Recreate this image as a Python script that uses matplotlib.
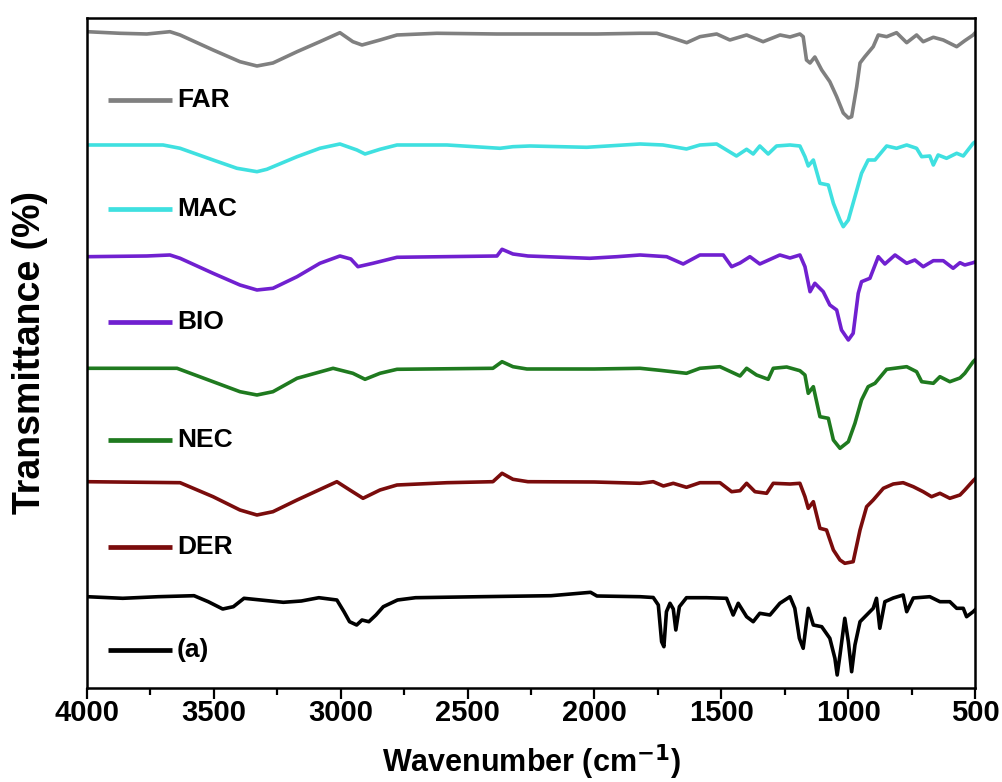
import matplotlib
matplotlib.use("Agg")
import matplotlib.pyplot as plt
from matplotlib.ticker import MultipleLocator

plt.rcParams['font.family'] = ['Liberation Sans', 'DejaVu Sans']

# ---- data: wavenumber (cm^-1) and transmittance (a.u., stacked) ----
far_w = [4000, 3870, 3764, 3673, 3633, 3503, 3397, 3330, 3267, 3172, 3082, 3003, 2952, 2916, 2845, 2778,
         2621, 2384, 2254, 1990, 1820, 1754, 1689, 1636, 1584, 1518, 1466, 1400, 1335, 1268, 1229, 1190,
         1177, 1164, 1150, 1131, 1104, 1072, 1045, 1019, 999, 986, 966, 953, 934, 901, 881, 848, 809, 769,
         730, 704, 664, 625, 572, 540, 507, 500]
far_t = [668.3, 666.7, 666, 668.3, 665, 650, 638.3, 634, 637, 648.3, 658.3, 667.3, 658.3, 655, 660, 665,
         666.7, 666, 666, 666, 666.7, 666.7, 661.7, 657.3, 663.3, 666, 660, 665, 658.3, 665, 663, 666,
         663.3, 640, 637, 643, 630, 618.3, 603.3, 587, 582, 583.3, 613.3, 637, 643.3, 653.3, 665, 663.3, 667.3, 657.3,
         665, 658.3, 662.7, 660, 653.3, 659.3, 665, 667]

mac_w = [4000, 3700, 3633, 3503, 3409, 3330, 3291, 3172, 3082, 3003, 2936, 2904, 2845, 2778, 2581, 2372,
         2321, 2254, 2030, 1820, 1730, 1689, 1637, 1584, 1518, 1479, 1440, 1400, 1374, 1348, 1315, 1282,
         1229, 1190, 1170, 1157, 1137, 1111, 1078, 1058, 1032, 1019, 999, 973, 947, 921, 894, 848, 809,
         769, 730, 710, 678, 664, 645, 612, 572, 546, 507, 500]
mac_t = [555, 555, 551.7, 540, 531.7, 528.3, 530.7, 543.3, 551.7, 556, 550, 546, 550.7, 555, 555, 551.7,
         553.3, 554, 552.7, 556, 555, 553.3, 551, 555, 556, 550, 544, 550.7, 546, 554, 546, 554,
         555, 554, 543.3, 534, 540, 516.7, 515, 496.7, 480, 473.3, 480, 503.3, 526.7, 540, 540, 554, 551.7,
         555, 551.7, 543.3, 544, 535, 545, 541.7, 546.7, 544, 556.7, 558]

bio_w = [4000, 3764, 3673, 3633, 3503, 3397, 3330, 3267, 3172, 3082, 3003, 2960, 2932, 2873, 2778, 2384,
         2364, 2321, 2262, 2018, 1911, 1820, 1715, 1650, 1584, 1492, 1459, 1426, 1387, 1348, 1269, 1229,
         1190, 1170, 1150, 1131, 1098, 1072, 1045, 1026, 999, 980, 960, 947, 914, 881, 855, 815, 769,
         737, 704, 664, 625, 586, 559, 540, 507, 500]
bio_t = [443.3, 444, 445, 441.7, 426.7, 415, 410, 411.7, 423.3, 436.7, 444, 441, 433.3, 436.7, 442.7, 444,
         450.7, 446, 444, 441.7, 443.3, 445, 443.3, 436, 445, 445, 433.3, 437, 443.3, 436, 445, 442,
         445, 433.3, 408.3, 416.7, 408.3, 395, 390, 370, 360, 366.7, 406.7, 418.3, 421.7, 443.3, 436, 445, 436.7,
         440, 433.3, 439.3, 439.3, 431.7, 437.3, 435, 437.3, 438]

nec_w = [4000, 3645, 3503, 3397, 3330, 3267, 3172, 3030, 2952, 2904, 2845, 2778, 2400, 2364, 2321, 2266,
         2000, 1820, 1742, 1637, 1584, 1505, 1426, 1400, 1361, 1315, 1295, 1242, 1190, 1170, 1157, 1137,
         1111, 1078, 1058, 1032, 999, 973, 947, 921, 894, 848, 769, 730, 710, 664, 638, 599, 559, 540,
         507, 500]
nec_t = [331.7, 331.7, 318.3, 308.3, 305, 308.3, 321.7, 331.7, 326.7, 320.7, 326.7, 330.7, 331.7, 338.3, 333.3, 331,
         331, 331.7, 329.7, 326.7, 331.7, 333.3, 324, 331.7, 325, 320.7, 331.7, 333, 329.3, 325, 306.7, 313.3,
         283.3, 281.7, 260, 251.7, 258.3, 276.7, 300, 313.3, 316.7, 330.7, 333.3, 328.3, 318.3, 316.7, 323.3, 318.3, 322, 326.7,
         338.3, 340]

der_w = [4000, 3633, 3503, 3397, 3330, 3267, 3172, 3015, 2964, 2912, 2845, 2778, 2581, 2400, 2364, 2321,
         2262, 2000, 1820, 1768, 1728, 1689, 1637, 1584, 1505, 1459, 1426, 1400, 1367, 1321, 1295, 1229,
         1190, 1170, 1157, 1137, 1111, 1085, 1058, 1032, 1013, 980, 953, 927, 901, 861, 822, 783, 743,
         704, 671, 638, 599, 559, 540, 507, 500]
der_t = [218.3, 217.3, 203.3, 190, 185, 188.3, 200, 218.3, 210, 201.7, 210, 215, 217.3, 218.3, 226.7, 220.7,
         218.3, 218, 216.7, 218.3, 214, 216.7, 212.7, 217.3, 217.3, 208.3, 209.3, 216.7, 208.3, 206.7, 216.7, 216,
         216.7, 203.3, 191.7, 198.3, 171.7, 170, 150, 140, 136.7, 138.3, 170, 193.3, 200, 211.7, 216, 217.3, 213.3,
         208.3, 203.3, 206.7, 201.7, 205, 210, 219.3, 221]

a_w = [4000, 3859, 3719, 3578, 3522, 3465, 3423, 3381, 3226, 3155, 3086, 3015, 2987, 2965, 2937, 2916,
       2889, 2861, 2832, 2776, 2705, 2451, 2171, 2015, 1990, 1820, 1768, 1748, 1735, 1726, 1716, 1702,
       1689, 1679, 1665, 1637, 1558, 1479, 1453, 1433, 1400, 1374, 1348, 1308, 1269, 1229, 1210, 1192,
       1177, 1157, 1137, 1104, 1072, 1052, 1043, 1032, 1013, 999, 986, 973, 953, 927, 901, 888, 875,
       855, 822, 783, 769, 743, 678, 638, 599, 572, 546, 533, 507, 500]
a_t = [103.3, 101.7, 103.3, 104.3, 98.3, 91, 93.3, 101.7, 97.7, 99, 102.3, 100, 88.3, 78.3, 75, 80,
       78.3, 85, 93.3, 100, 102.3, 103.3, 104.3, 107.7, 104, 103.3, 102.5, 95, 58.3, 53.3, 88.3, 96.7,
       91, 70, 93.3, 102.3, 102.3, 101.7, 85, 96.7, 83.3, 78.3, 86.7, 85, 96.7, 103.3, 91.7, 61.7,
       51.7, 91.7, 75, 73.3, 61.7, 41.7, 25, 45, 81.7, 58.3, 28.3, 55, 78.3, 85, 91.7, 101.7, 71.7,
       98.3, 102, 105, 88.3, 102, 103.3, 98.3, 98.3, 91.7, 91.7, 83.3, 88.3, 90]

labels = ["FAR", "MAC", "BIO", "NEC", "DER", "(a)"]
colors = ["#808080", "#3fe0e0", "#7020d0", "#1f7a1f", "#7a0c0c", "#000000"]
series = [(far_w, far_t), (mac_w, mac_t), (bio_w, bio_t), (nec_w, nec_t), (der_w, der_t), (a_w, a_t)]

# ---- figure ----
fig = plt.figure(figsize=(10.02, 7.82), dpi=100)
ax = fig.add_axes([0.0868, 0.1202, 0.8862, 0.8568])

for (w, t), c in zip(series, colors):
    ax.plot(w, t, color=c, lw=2.6, solid_joinstyle='round')

# in-plot legend entries
label_y = [0.8776, 0.7145, 0.5467, 0.3701, 0.2109, 0.0567]
for lab, c, yy in zip(labels, colors, label_y):
    ax.plot([0.0237, 0.0957], [yy, yy], transform=ax.transAxes, color=c, lw=3.4,
            solid_capstyle='butt')
    ax.text(0.1015, yy, lab, transform=ax.transAxes, fontsize=19, fontweight='bold',
            va='center', ha='left', color='black')

ax.set_xlim(4000, 500)
ax.set_ylim(12, 682)
ax.xaxis.set_major_locator(MultipleLocator(500))
ax.xaxis.set_minor_locator(MultipleLocator(250))
ax.tick_params(axis='x', which='major', direction='out', length=8, width=1.6,
               labelsize=21, pad=0)
ax.tick_params(axis='x', which='minor', direction='out', length=5, width=1.6)
ax.tick_params(axis='x', top=False)
for lbl in ax.get_xticklabels():
    lbl.set_fontweight('bold')
ax.set_yticks([])
for sp in ax.spines.values():
    sp.set_linewidth(1.8)

ax.set_xlabel("Wavenumber (cm$^{\\mathbf{-1}}$)", fontsize=22, fontweight='bold', labelpad=11)
ax.set_ylabel("Transmittance (%)", fontsize=27, fontweight='bold', labelpad=28)

fig.savefig("out.png", dpi=100)
